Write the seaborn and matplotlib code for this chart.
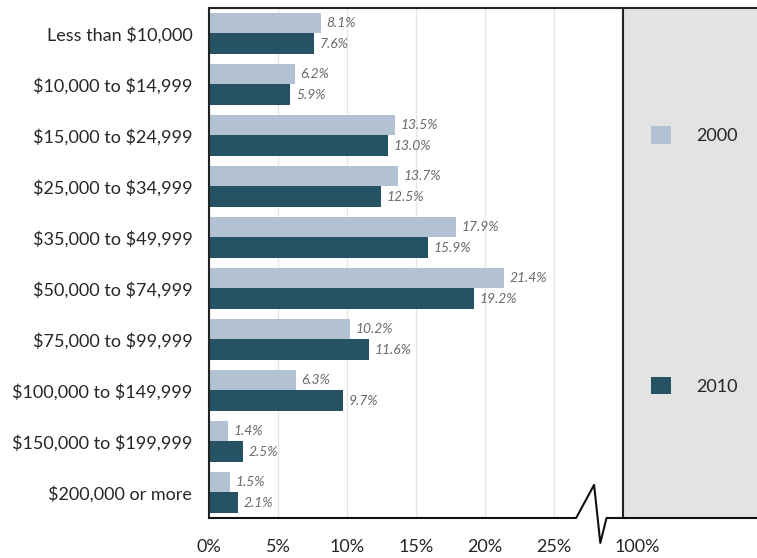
import pandas as pd
import seaborn as sns
import matplotlib.pyplot as plt
from matplotlib.transforms import blended_transform_factory, ScaledTranslation

categories = ["Less than $10,000", "$10,000 to $14,999", "$15,000 to $24,999",
              "$25,000 to $34,999", "$35,000 to $49,999", "$50,000 to $74,999",
              "$75,000 to $99,999", "$100,000 to $149,999", "$150,000 to $199,999",
              "$200,000 or more"]
share_2000 = [8.1, 6.2, 13.5, 13.7, 17.9, 21.4, 10.2, 6.3, 1.4, 1.5]
share_2010 = [7.6, 5.9, 13.0, 12.5, 15.9, 19.2, 11.6, 9.7, 2.5, 2.1]
years = ["2000", "2010"]
tick_pos = [0, 5, 10, 15, 20, 25, 30]
tick_labels = ["0%", "5%", "10%", "15%", "20%", "25%", "100%"]

df = pd.DataFrame({
    "Income": categories * 2,
    "Share": share_2000 + share_2010,
    "Year": [years[0]] * len(categories) + [years[1]] * len(categories),
})

sns.set_style("white")
plt.rcParams["font.family"] = ["Lato", "DejaVu Sans"]
plt.rcParams["text.parse_math"] = False

fig = plt.figure(figsize=(7.57, 5.58), dpi=100)
ax = fig.add_axes([0.276, 0.0717, 0.724, 0.914])

sns.barplot(data=df, y="Income", x="Share", hue="Year", orient="h",
            palette=["#b3c2d3", "#265363"], width=0.8, ax=ax, saturation=1,
            linewidth=0)

for cont in ax.containers:
    ax.bar_label(cont, fmt="%.1f%%", padding=4, fontsize=10,
                 fontstyle="italic", color="#6a6a6a")

xmax = 39.7
ax.set_xlim(0, xmax)
ax.set_ylim(len(categories) - 0.5, -0.5)
ax.axvspan(30, xmax, color="#e3e3e3", zorder=0)
ax.axvline(30, color="#222222", lw=1.5, zorder=3)

ax.set_xticks(tick_pos)
ax.set_xticklabels(tick_labels, fontsize=13)
ax.set_yticks(range(len(categories)))
ax.set_yticklabels(categories, fontsize=13)
ax.set_yticks([i + 0.5 for i in range(-1, len(categories))], minor=True)
ax.tick_params(axis="y", which="major", length=0, pad=12)
ax.tick_params(axis="y", which="minor", length=8, color="#333333", width=1)
ax.tick_params(axis="x", length=5, color="#bbbbbb", pad=10)
ax.set_xlabel("")
ax.set_ylabel("")

# the "100%" label sits just right of its tick
last = ax.get_xticklabels()[-1]
last.set_transform(last.get_transform() + ScaledTranslation(0.14, 0, fig.dpi_scale_trans))

ax.grid(axis="x", color="#e6e6e6", lw=1)
ax.set_axisbelow(True)

for s in ["right", "bottom"]:
    ax.spines[s].set_visible(False)
for s in ["left", "top"]:
    ax.spines[s].set_color("#222222")
    ax.spines[s].set_linewidth(1.5)

# bottom axis with a break mark
tr = blended_transform_factory(ax.transData, ax.transAxes)
ax.plot([0, 26.6, 27.9, 28.35, 28.8, xmax], [0, 0, 0.065, -0.049, 0, 0],
        color="#111111", lw=1.5, transform=tr, clip_on=False, zorder=5)

leg = ax.legend(loc="center", bbox_to_anchor=(0.885, 0.505), frameon=False,
                fontsize=13, handlelength=1.1, handleheight=1.1,
                labelspacing=12.9, handletextpad=1.4, title=None)

fig.savefig("out.png", dpi=100)
